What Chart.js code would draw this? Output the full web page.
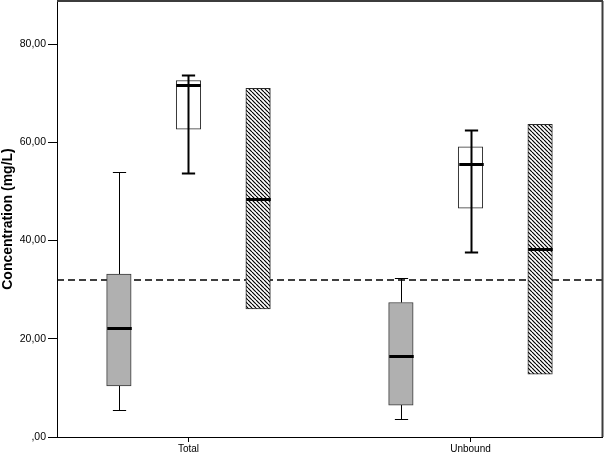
<!DOCTYPE html>
<html>
<head>
<meta charset="utf-8">
<script src="https://cdn.jsdelivr.net/npm/chart.js@4/dist/chart.umd.min.js"></script>
<style>
html,body{margin:0;padding:0;background:#fff;}
#wrap{width:604px;height:455px;}
</style>
</head>
<body>
<div id="wrap"><canvas id="c" width="604" height="455"></canvas></div>
<script>
// ---- data ----
const categories = ['Total', 'Unbound'];
const yTickValues = [0, 20, 40, 60, 80];
const yTickLabels = [',00', '20,00', '40,00', '60,00', '80,00'];
const referenceLine = 32;

const grayMin    = [5.4, 3.7];
const grayQ1     = [10.4, 6.5];
const grayMedian = [22.2, 16.4];
const grayQ3     = [33.2, 27.4];
const grayMax    = [54.0, 32.3];

const whiteMin    = [53.8, 37.7];
const whiteQ1     = [62.7, 46.6];
const whiteMedian = [71.6, 55.6];
const whiteQ3     = [72.6, 59.1];
const whiteMax    = [73.8, 62.5];

const hatchMin    = [26.1, 12.8];
const hatchQ1     = [26.1, 12.8];
const hatchMedian = [48.5, 38.3];
const hatchQ3     = [71.0, 63.7];
const hatchMax    = [71.0, 63.7];

// ---- layout / style ----
const groupOffsets = [-0.2468, 0, 0.2468];
const boxWidthPx = 24.5;

function hatchPattern() {
  const s = 4;
  const cv = document.createElement('canvas');
  cv.width = s; cv.height = s;
  const g = cv.getContext('2d');
  g.fillStyle = '#fff';
  g.fillRect(0, 0, s, s);
  g.strokeStyle = '#000';
  g.lineWidth = 1.2;
  for (const x0 of [-s, 0, s]) {
    g.beginPath();
    g.moveTo(x0, 0);
    g.lineTo(x0 + s, s);
    g.stroke();
  }
  return g.createPattern(cv, 'repeat');
}

const seriesList = [
  {min: grayMin, q1: grayQ1, med: grayMedian, q3: grayQ3, max: grayMax,
   fill: '#b0b0b0', border: '#3a3a3a', whiskerWidth: 1, through: false},
  {min: whiteMin, q1: whiteQ1, med: whiteMedian, q3: whiteQ3, max: whiteMax,
   fill: '#ffffff', border: '#2a2a2a', whiskerWidth: 2, through: true},
  {min: hatchMin, q1: hatchQ1, med: hatchMedian, q3: hatchQ3, max: hatchMax,
   fill: hatchPattern(), border: '#2a2a2a', whiskerWidth: 2, through: false}
];

const datasets = seriesList.map((s, si) => ({
  type: 'bar',
  data: categories.map((c, ci) => ({x: ci + 1 + groupOffsets[si], y: [s.q1[ci], s.q3[ci]]})),
  backgroundColor: s.fill,
  borderColor: s.border,
  borderWidth: 1,
  borderSkipped: false,
  grouped: false,
  barThickness: boxWidthPx
}));

const frameAndLines = {
  id: 'frameAndLines',
  beforeDatasetsDraw(chart) {
    const {ctx, chartArea: a, scales: {y}} = chart;
    const py = y.getPixelForValue(referenceLine);
    ctx.save();
    ctx.strokeStyle = '#000';
    ctx.lineWidth = 1.5;
    ctx.setLineDash([7, 4]);
    ctx.beginPath();
    ctx.moveTo(a.left, py);
    ctx.lineTo(a.right, py);
    ctx.stroke();
    ctx.restore();
  },
  afterDatasetsDraw(chart) {
    const {ctx, chartArea: a, scales: {x, y}} = chart;
    ctx.save();
    seriesList.forEach((s, si) => {
      categories.forEach((c, ci) => {
        const cx = Math.round(x.getPixelForValue(ci + 1 + groupOffsets[si])) + 0.5;
        const half = boxWidthPx / 2;
        const capHalf = boxWidthPx / 4 + 0.5;
        const pMin = Math.round(y.getPixelForValue(s.min[ci])) + 0.5;
        const pQ1 = y.getPixelForValue(s.q1[ci]);
        const pMed = Math.round(y.getPixelForValue(s.med[ci]));
        const pQ3 = y.getPixelForValue(s.q3[ci]);
        const pMax = Math.round(y.getPixelForValue(s.max[ci])) + 0.5;
        ctx.strokeStyle = '#000';
        ctx.lineWidth = s.whiskerWidth;
        ctx.beginPath();
        if (s.through) {
          ctx.moveTo(cx, pMin); ctx.lineTo(cx, pMax);
        } else {
          if (s.max[ci] > s.q3[ci]) { ctx.moveTo(cx, pQ3); ctx.lineTo(cx, pMax); }
          if (s.min[ci] < s.q1[ci]) { ctx.moveTo(cx, pQ1); ctx.lineTo(cx, pMin); }
        }
        ctx.stroke();
        ctx.beginPath();
        if (s.max[ci] > s.q3[ci]) { ctx.moveTo(cx - capHalf, pMax); ctx.lineTo(cx + capHalf, pMax); }
        if (s.min[ci] < s.q1[ci]) { ctx.moveTo(cx - capHalf, pMin); ctx.lineTo(cx + capHalf, pMin); }
        ctx.stroke();
        ctx.lineWidth = 3;
        ctx.beginPath();
        ctx.moveTo(cx - half, pMed + 0.5); ctx.lineTo(cx + half, pMed + 0.5);
        ctx.stroke();
      });
    });
    // frame: top and right
    ctx.strokeStyle = '#3c3c3c';
    ctx.lineWidth = 2;
    ctx.beginPath();
    ctx.moveTo(a.left, a.top);
    ctx.lineTo(a.right + 1, a.top);
    ctx.moveTo(a.right + 0.5, a.top);
    ctx.lineTo(a.right + 0.5, a.bottom);
    ctx.stroke();
    ctx.restore();
  }
};

new Chart(document.getElementById('c'), {
  type: 'bar',
  data: {datasets},
  options: {
    responsive: false,
    animation: false,
    devicePixelRatio: 1,
    layout: {padding: {top: 1, right: 2, left: 0, bottom: 0}},
    plugins: {legend: {display: false}, tooltip: {enabled: false}},
    scales: {
      x: {
        type: 'linear',
        offset: false,
        min: 0.5337,
        max: 2.4663,
        afterFit(scale) { scale.height = 18; scale.paddingLeft = 0; scale.paddingRight = 0; },
        afterBuildTicks(scale) { scale.ticks = categories.map((c, i) => ({value: i + 1})); },
        ticks: {
          autoSkip: false,
          maxRotation: 0,
          padding: 1,
          color: '#000',
          font: {family: 'Liberation Sans, Arial, sans-serif', size: 10},
          callback: (v) => categories[Math.round(v) - 1]
        },
        grid: {display: true, offset: false, drawOnChartArea: false, drawTicks: true, tickLength: 5, color: '#000', lineWidth: 1},
        border: {display: true, color: '#000', width: 1}
      },
      y: {
        type: 'linear',
        min: 0,
        max: 88.8,
        afterFit(scale) { scale.width = 57; scale.paddingTop = 0; scale.paddingBottom = 0; },
        afterBuildTicks(scale) { scale.ticks = yTickValues.map(v => ({value: v})); },
        ticks: {
          padding: 2,
          color: '#000',
          font: {family: 'Liberation Sans, Arial, sans-serif', size: 10.5},
          callback: (v) => yTickLabels[yTickValues.indexOf(v)]
        },
        grid: {display: true, drawOnChartArea: false, drawTicks: true, tickLength: 9, color: '#000', lineWidth: 1},
        border: {display: true, color: '#000', width: 1},
        title: {
          display: true,
          text: 'Concentration (mg/L)',
          color: '#000',
          padding: {top: 0, bottom: 0},
          font: {family: 'Liberation Sans, Arial, sans-serif', size: 14, weight: 'bold'}
        }
      }
    }
  },
  plugins: [frameAndLines]
});
</script>
</body>
</html>
